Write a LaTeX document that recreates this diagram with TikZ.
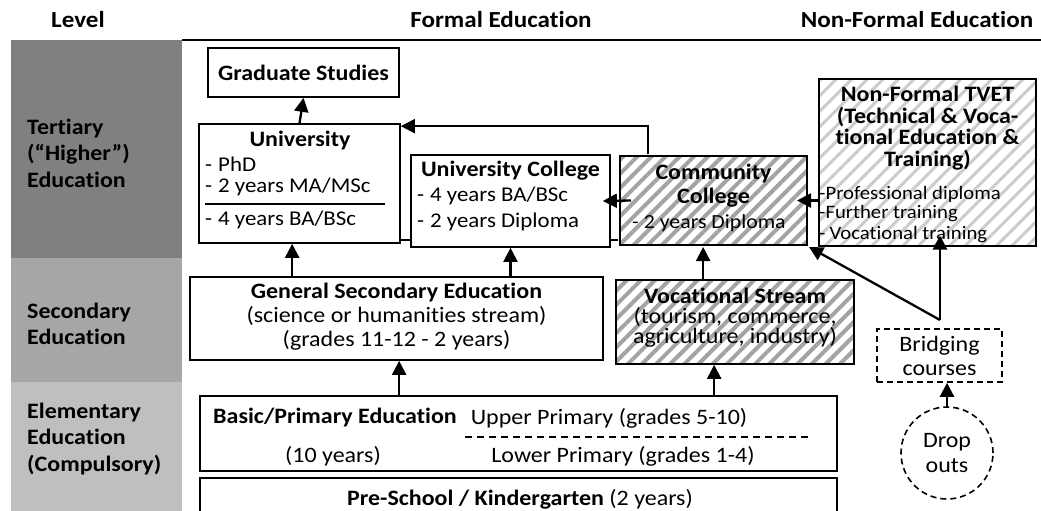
\documentclass[tikz,border=0pt]{standalone}
\usepackage{fontspec}
\setmainfont{Carlito}[FakeStretch=1.09,RawFeature={-liga;-clig}]
\usetikzlibrary{arrows.meta,patterns.meta,fit,calc}
\definecolor{tgray}{HTML}{808080}
\definecolor{sgray}{HTML}{A6A6A6}
\definecolor{egray}{HTML}{BFBFBF}
\begin{document}
\begin{tikzpicture}[x=1pt,y=-1pt,
  every node/.style={inner sep=0pt,font=\fontsize{22}{24}\selectfont},
  box/.style={draw,line width=1.7pt,inner sep=0pt,align=center},
  hatchdark/.style={pattern={Lines[angle=45,distance=10pt,line width=4pt]},pattern color=black!36},
  hatchlight/.style={pattern={Lines[angle=45,distance=11pt,line width=3pt]},pattern color=black!20},
  arr/.style={line width=2.3pt,-{Triangle[length=14pt,width=14pt]}},
  hdr/.style={font=\fontsize{23}{24}\selectfont\bfseries},
  lvl/.style={anchor=west,align=left,font=\fontsize{22}{26.5}\selectfont\bfseries},
  item/.style={anchor=west,font=\fontsize{21}{24}\selectfont},
  smallitem/.style={anchor=west,font=\fontsize{19}{20}\selectfont},
  bold/.style={font=\fontsize{22}{24}\selectfont\bfseries}]
\useasboundingbox (0,0) rectangle (1041,511);
\clip (0,0) rectangle (1041,511);
% level column
\fill[tgray] (11,40) rectangle (182,258);
\fill[sgray] (11,258) rectangle (182,382);
\fill[egray] (11,382) rectangle (182,520);
\node[lvl] (lt) at (27,153) {Tertiary\\(“Higher”)\\Education};
\node[lvl] (ls) at (27,324) {Secondary\\Education};
\node[lvl] (le) at (27,439) {Elementary\\Education\\(Compulsory)};
% headers
\node[hdr] (h1) at (78,20) {Level};
\node[hdr] (h2) at (501,20) {Formal Education};
\node[hdr] (h3) at (917,20) {Non-Formal Education};
\draw[line width=2pt] (182,40) -- (1041,40);
% boxes
\node[box,fit={(208,48)(399,97)}] (grad) {};
\node[bold] at (grad.center) {Graduate Studies};
\node[box,fit={(199,124)(400,243)}] (univ) {};
\node[bold] (univt) at (300,141) {University};
\node[item] (u1) at (205,164) {-\hspace{6pt}PhD};
\node[item] (u2) at (205,187) {-\hspace{6pt}2 years MA/MSc};
\draw[line width=1.5pt] (205,204) -- (385,204);
\node[item] (u3) at (205,220) {-\hspace{6pt}4 years BA/BSc};
\node[box,fit={(411,155)(610,247)}] (unicol) {};
\node[bold] (uct) at (510.5,171) {University College};
\node[item] (uc1) at (417,196) {-\hspace{6pt}4 years BA/BSc};
\node[item] (uc2) at (417,222) {-\hspace{6pt}2 years Diploma};
\node[box,hatchdark,fit={(620,156)(807,245)}] (comcol) {};
\node[bold,align=center] (cct) at (713.5,186) {Community\\College};
\node[item,font=\fontsize{20}{24}\selectfont] (cc1) at (632,223) {-\hspace{5pt}2 years Diploma};
\node[box,hatchlight,fit={(819,79)(1036,246)}] (tvet) {};
\node[align=center,font=\fontsize{22}{21.5}\selectfont\bfseries] (tvt) at (927.5,128) {Non-Formal TVET\\(Technical \& Voca-\\tional Education \&\\Training)};
\node[smallitem] (t1) at (819,194) {-Professional diploma};
\node[smallitem] (t2) at (819,214) {-Further training};
\node[smallitem] (t3) at (819,234.5) {-\hspace{4pt}Vocational training};
\node[box,fit={(190,277)(603,360)}] (gse) {};
\node[align=center] (gset) at (396.5,317) {\textbf{General Secondary Education}\\(science or humanities stream)\\(grades 11-12 - 2 years)};
\node[box,hatchdark,fit={(616,280)(854,364)}] (voc) {};
\begin{scope}
\clip (616,280) rectangle (854,346.5);
\node[align=center,font=\fontsize{22}{20}\selectfont] (voct) at (735,318) {\textbf{Vocational Stream}\\(tourism, commerce,\\agriculture, industry)};
\end{scope}
\node[box,fit={(200,396)(837,471)}] (basic) {};
\node[bold] (bpe) at (335,418) {Basic/Primary Education};
\node (b10) at (333,456) {(10 years)};
\node (up) at (609,418) {Upper Primary (grades 5-10)};
\draw[line width=1.5pt,dash pattern=on 7pt off 5pt] (465,437) -- (810,437);
\node (lp) at (623,456) {Lower Primary (grades 1-4)};
\node[box,fit={(200,478)(837,530)}] (pre) {};
\node (pret) at (520,499) {\textbf{Pre-School / Kindergarten} (2 years)};
\node[box,line width=1.6pt,dash pattern=on 6pt off 4pt,fit={(877,329)(1002,382)}] (bridg) {};
\node[align=center] at (bridg.center) {Bridging\\courses};
\node[draw,circle,line width=1.6pt,dash pattern=on 6pt off 4pt,minimum size=92pt] (drop) at (947,453) {};
\node[align=center,font=\fontsize{22}{25}\selectfont] at (drop.center) {Drop\\outs};
% connectors
\draw[arr] (univ.north) -- (grad.south);
\draw[arr] ([xshift=30pt]comcol.north west) |- ([yshift=-3pt]univ.north east);
\draw[arr] ([xshift=13pt]comcol.west) -- ([xshift=-8pt]unicol.east);
\draw[arr] (tvet.west |- comcol.east) -- ([xshift=-12pt]comcol.east);
\draw[line width=1.6pt] ([yshift=4pt]univ.south east) -- ([yshift=4pt]univ.south east -| unicol.west);
\draw[line width=1.6pt] ([yshift=8pt]unicol.south east) -- ([yshift=8pt]unicol.south east -| comcol.west);
\draw[arr] ([xshift=103pt]gse.north west) -- ([xshift=103pt]gse.north west |- univ.south);
\draw[arr] (gse.north -| unicol.south) -- (unicol.south);
\draw[arr] ([xshift=88pt]voc.north west) -- ([xshift=88pt]voc.north west |- comcol.south);
\draw[arr] ([xshift=200pt]basic.north west) -- ([xshift=200pt]basic.north west |- gse.south);
\draw[arr] ([xshift=515pt]basic.north west) -- ([xshift=515pt]basic.north west |- voc.south);
\coordinate (J) at (940,320);
\draw[arr] (J) -- (comcol.south east);
\draw[arr] (J) -- ([yshift=12pt]J |- tvet.south);
\draw[arr] (drop.north) -- (drop.north |- bridg.south);
\end{tikzpicture}
\end{document}
